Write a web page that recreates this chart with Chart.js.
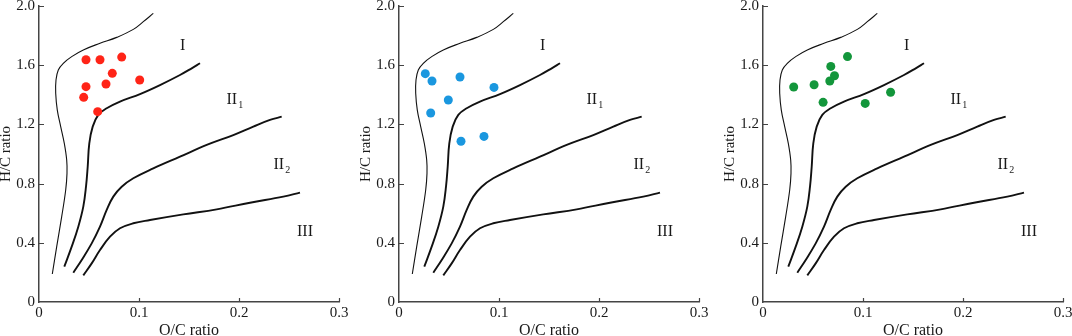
<!DOCTYPE html>
<html>
<head>
<meta charset="utf-8">
<script src="https://cdn.jsdelivr.net/npm/chart.js@4.4.0/dist/chart.umd.min.js"></script>
<style>
body{margin:0;background:#fff;width:1072px;height:336px;position:relative;overflow:hidden}
.panel{position:absolute;top:0;width:360px;height:336px}
</style>
</head>
<body>
<div class="panel" style="left:0"><canvas id="c1" width="360" height="336"></canvas></div>
<div class="panel" style="left:360px"><canvas id="c2" width="360" height="336"></canvas></div>
<div class="panel" style="left:724px"><canvas id="c3" width="360" height="336"></canvas></div>
<script>
// axes
var xTicks = [0, 0.1, 0.2, 0.3];
var xTickLabels = ["0", "0.1", "0.2", "0.3"];
var yTicks = [0, 0.4, 0.8, 1.2, 1.6, 2.0];
var yTickLabels = ["0", "0.4", "0.8", "1.2", "1.6", "2.0"];

// boundary curves
var curveAx = [0.0133,0.0177,0.0227,0.0267,0.028,0.0277,0.0253,0.0217,0.0183,0.0167,0.017,0.0193,0.0243,0.0327,0.0443,0.061,0.0777,0.0943,0.1043,0.1143];
var curveAy = [0.189,0.374,0.577,0.757,0.869,0.959,1.072,1.185,1.297,1.41,1.5,1.568,1.613,1.658,1.703,1.748,1.788,1.842,1.894,1.95];
var curveBx = [0.0253,0.0327,0.0393,0.0443,0.047,0.0487,0.0503,0.0537,0.0593,0.0677,0.081,0.101,0.121,0.141,0.1527,0.161];
var curveBy = [0.239,0.374,0.509,0.644,0.779,0.914,1.072,1.185,1.264,1.309,1.354,1.405,1.466,1.534,1.579,1.613];
var curveCx = [0.0343,0.0427,0.0527,0.061,0.0677,0.0743,0.0827,0.0943,0.1143,0.141,0.1677,0.1943,0.2143,0.231,0.2427];
var curveCy = [0.198,0.284,0.396,0.509,0.622,0.712,0.779,0.836,0.903,0.982,1.061,1.128,1.185,1.23,1.252];
var curveDx = [0.0443,0.0527,0.061,0.071,0.081,0.0943,0.111,0.1443,0.1777,0.211,0.2443,0.261];
var curveDy = [0.18,0.261,0.351,0.441,0.498,0.532,0.554,0.592,0.626,0.671,0.712,0.739];

// samples
var redX = [0.047,0.061,0.0827,0.0733,0.067,0.1007,0.047,0.0447,0.0587];
var redY = [1.637,1.637,1.655,1.545,1.473,1.50,1.455,1.383,1.286];
var blueX = [0.0263,0.033,0.061,0.095,0.0493,0.0317,0.062,0.085];
var blueY = [1.543,1.493,1.520,1.450,1.365,1.277,1.086,1.119];
var greenX = [0.0307,0.0511,0.0678,0.0715,0.0668,0.0845,0.0601,0.1022,0.1276];
var greenY = [1.453,1.468,1.592,1.529,1.493,1.658,1.349,1.342,1.417];

// kerogen type labels
var zoneNames = ["I", "II", "II", "III"];
var zoneSubs = ["", "1", "2", ""];
var zoneX = [0.1437, 0.1928, 0.2398, 0.266];
var zoneY = [1.732, 1.365, 0.926, 0.475];

function pts(xs, ys) {
  return xs.map(function (x, i) { return {x: x, y: ys[i]}; });
}

function curve(xs, ys, w) {
  return {data: pts(xs, ys), showLine: true, pointRadius: 0, borderColor: "#111",
          borderWidth: w, tension: 0.4, fill: false};
}

var serif = '"Liberation Serif", "Times New Roman", serif';

var extras = {
  id: "extras",
  afterDraw: function (chart) {
    var ctx = chart.ctx, xs = chart.scales.x, ys = chart.scales.y;
    ctx.save();
    // inward ticks
    ctx.strokeStyle = "#444";
    ctx.lineWidth = 1.2;
    ctx.beginPath();
    xTicks.forEach(function (v, i) {
      if (i == 0) return;
      var px = Math.round(xs.getPixelForValue(v)) + 0.5;
      ctx.moveTo(px, ys.bottom);
      ctx.lineTo(px, ys.bottom - 4);
    });
    yTicks.forEach(function (v, i) {
      if (i == 0) return;
      var py = Math.round(ys.getPixelForValue(v)) + 0.5;
      ctx.moveTo(xs.left, py);
      ctx.lineTo(xs.left + 5, py);
    });
    ctx.stroke();
    // zone labels
    ctx.fillStyle = "#1a1a1a";
    zoneNames.forEach(function (t, i) {
      var px = xs.getPixelForValue(zoneX[i]), py = ys.getPixelForValue(zoneY[i]);
      ctx.font = "16px " + serif;
      ctx.textAlign = "center";
      ctx.textBaseline = "middle";
      ctx.fillText(t, px, py);
      if (zoneSubs[i]) {
        var w = ctx.measureText(t).width;
        ctx.font = "10px " + serif;
        ctx.textAlign = "left";
        ctx.fillText(zoneSubs[i], px + w / 2 + 1, py + 5);
      }
    });
    ctx.restore();
  }
};

function makeChart(id, xs, ys, color) {
  new Chart(document.getElementById(id), {
    type: "scatter",
    data: {
      datasets: [
        {data: pts(xs, ys), pointRadius: 4.5, backgroundColor: color, borderWidth: 0},
        curve(curveAx, curveAy, 1.1),
        curve(curveBx, curveBy, 1.9),
        curve(curveCx, curveCy, 1.9),
        curve(curveDx, curveDy, 1.9)
      ]
    },
    options: {
      responsive: false,
      animation: false,
      layout: {padding: {top: 6, right: 21, left: 0, bottom: 0}},
      plugins: {legend: {display: false}, tooltip: {enabled: false}},
      scales: {
        x: {
          type: "linear", min: 0, max: 0.3,
          afterBuildTicks: function (s) { s.ticks = xTicks.map(function (v) { return {value: v}; }); },
          afterFit: function (s) { s.height = 34; s.paddingLeft = 0; s.paddingRight = 0; s.paddingTop = 0; s.paddingBottom = 0; },
          grid: {display: true, drawOnChartArea: false, drawTicks: false},
          border: {display: true, color: "#444", width: 1.5},
          ticks: {
            autoSkip: false, maxRotation: 0, padding: 2, color: "#1a1a1a",
            font: {family: serif, size: 15},
            callback: function (v, i) { return xTickLabels[i]; }
          },
          title: {display: true, text: "O/C ratio", color: "#1a1a1a",
                  font: {family: serif, size: 16, lineHeight: 0.6}, padding: 0}
        },
        y: {
          type: "linear", min: 0, max: 2,
          afterBuildTicks: function (s) { s.ticks = yTicks.map(function (v) { return {value: v}; }); },
          afterFit: function (s) { s.width = 39; s.paddingLeft = 0; s.paddingRight = 0; s.paddingTop = 0; s.paddingBottom = 0; },
          grid: {display: true, drawOnChartArea: false, drawTicks: false},
          border: {display: true, color: "#444", width: 1.5},
          ticks: {
            autoSkip: false, padding: 4, color: "#1a1a1a",
            font: {family: serif, size: 15},
            callback: function (v, i) { return yTickLabels[i]; }
          },
          title: {display: true, text: "H/C ratio", color: "#1a1a1a",
                  font: {family: serif, size: 15, lineHeight: 0.8}, padding: 0}
        }
      }
    },
    plugins: [extras]
  });
}

makeChart("c1", redX, redY, "#ff2417");
makeChart("c2", blueX, blueY, "#1a97df");
makeChart("c3", greenX, greenY, "#13963b");
</script>
</body>
</html>
